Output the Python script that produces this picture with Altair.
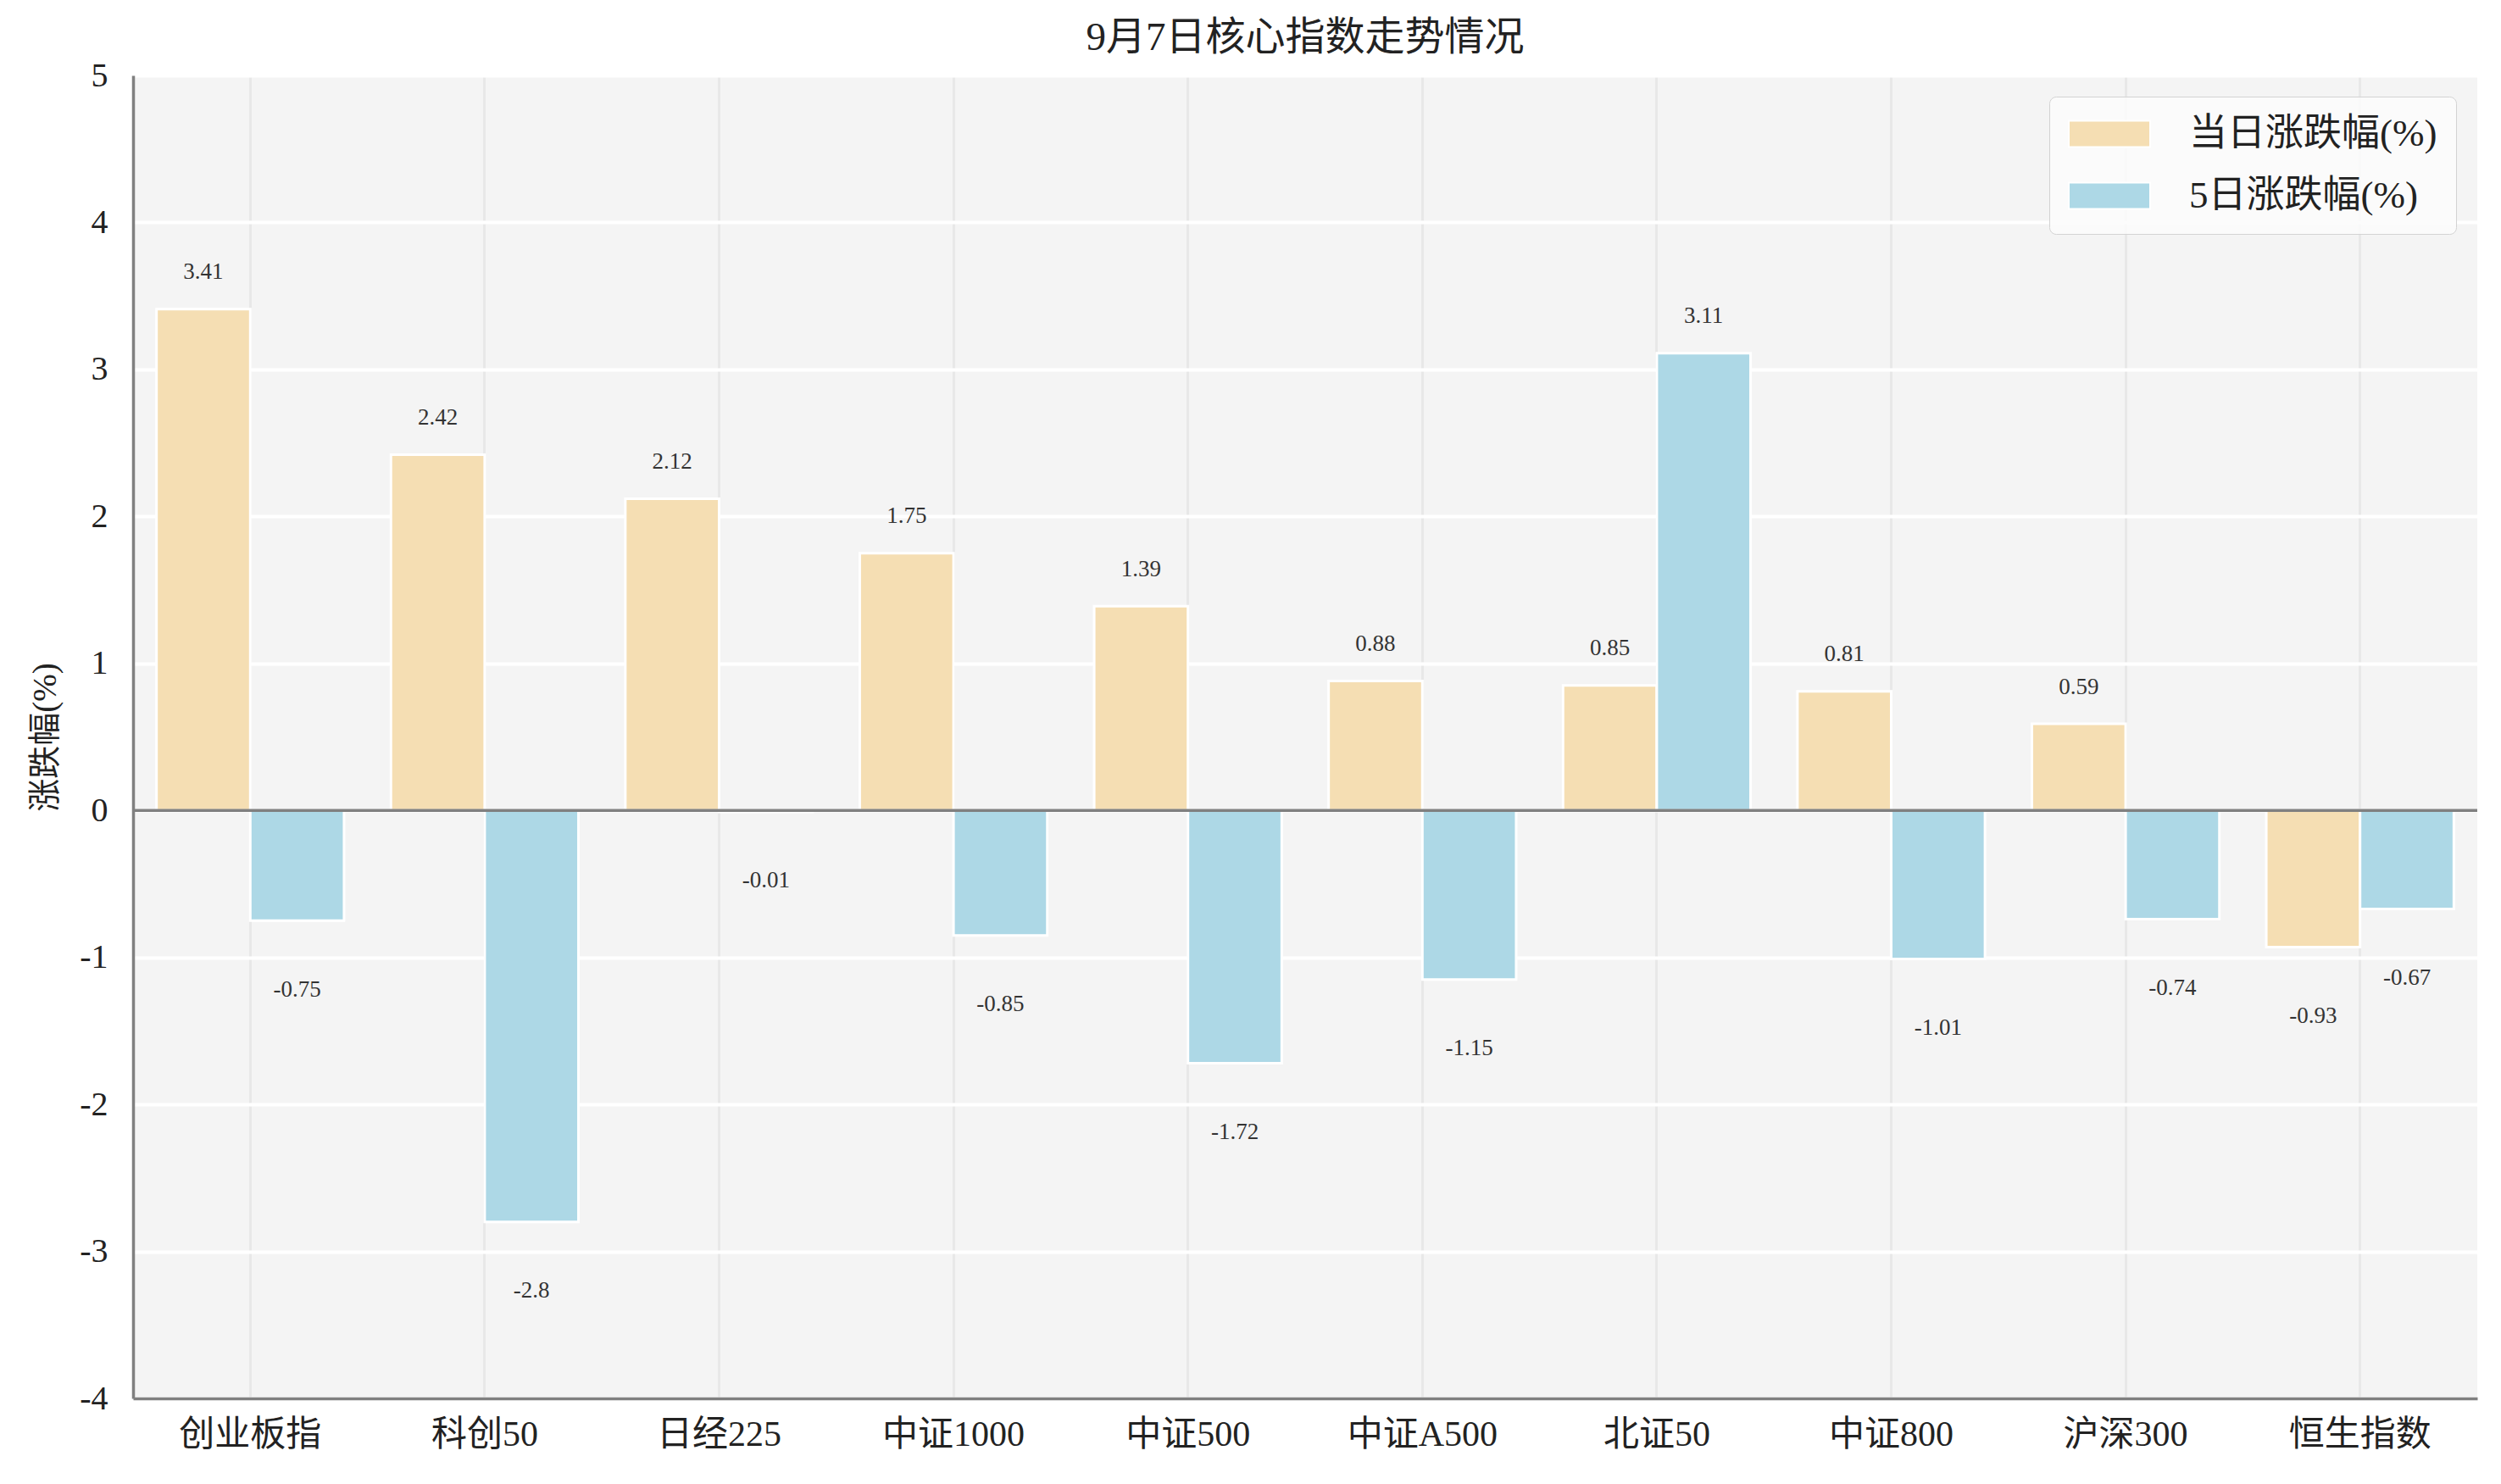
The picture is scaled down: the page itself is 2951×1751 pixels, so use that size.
import altair as alt
import pandas as pd

categories = ["创业板指", "科创50", "日经225", "中证1000", "中证500",
              "中证A500", "北证50", "中证800", "沪深300", "恒生指数"]
series_names = ["当日涨跌幅(%)", "5日涨跌幅(%)"]
day_change = [3.41, 2.42, 2.12, 1.75, 1.39, 0.88, 0.85, 0.81, 0.59, -0.93]
five_day_change = [-0.75, -2.8, -0.01, -0.85, -1.72, -1.15, 3.11, -1.01, -0.74, -0.67]
y_ticks = [-4, -3, -2, -1, 0, 1, 2, 3, 4, 5]
colors = ["#f5deb3", "#add8e6"]

rows = []
for i, c in enumerate(categories):
    rows.append({"cat": c, "series": series_names[0], "value": day_change[i]})
    rows.append({"cat": c, "series": series_names[1], "value": five_day_change[i]})
df = pd.DataFrame(rows)

FONT = "Liberation Serif, Noto Sans CJK SC, serif"

x_enc = alt.X("cat:N", sort=categories, title=None,
              scale=alt.Scale(paddingInner=0, paddingOuter=0),
              axis=alt.Axis(labelAngle=0, labelPadding=22, tickSize=0,
                            labelFontSize=42,
                            grid=True, gridColor="#e8e8e8", gridWidth=3,
                            bandPosition=0.5))
xoff_enc = alt.XOffset("series:N", sort=series_names,
                       scale=alt.Scale(paddingInner=0, paddingOuter=0.25))
y_scale = alt.Scale(domain=[-4, 5], nice=False, zero=False)

base = alt.Chart(df)

bars = base.mark_bar(stroke="white", strokeWidth=3).encode(
    x=x_enc,
    xOffset=xoff_enc,
    y=alt.Y("value:Q", title="涨跌幅(%)", scale=y_scale,
            axis=alt.Axis(values=y_ticks, labelExpr="toString(datum.value)",
                          labelPadding=30, tickSize=0, grid=True,
                          gridColor="#ffffff", gridWidth=4, titlePadding=20)),
    color=alt.Color("series:N", sort=series_names,
                    scale=alt.Scale(domain=series_names, range=colors),
                    legend=alt.Legend(title=None, orient="top-right", offset=25,
                                      labelFont=FONT, labelFontSize=45,
                                      labelColor="#222222", labelOffset=45,
                                      labelLimit=500,
                                      symbolType="M-1,-0.323H1V0.323H-1Z",
                                      symbolSize=9216, symbolStrokeColor="white",
                                      symbolStrokeWidth=2, symbolOpacity=1,
                                      clipHeight=44,
                                      rowPadding=28, padding=22,
                                      fillColor="rgba(252,252,252,0.85)",
                                      strokeColor="#d3d3d3", cornerRadius=8)),
)

labels = base.transform_calculate(
    ly="datum.value >= 0 ? datum.value + 0.25 : datum.value - 0.47",
    txt="toString(datum.value)",
).mark_text(font=FONT, fontSize=27, color="#333333", baseline="middle").encode(
    x=alt.X("cat:N", sort=categories, title=None),
    xOffset=xoff_enc,
    y=alt.Y("ly:Q", title="涨跌幅(%)", scale=y_scale),
    text="txt:N",
)

zero = alt.Chart(pd.DataFrame({"z": [0]})).mark_rule(
    color="#808080", strokeWidth=3.5).encode(
    y=alt.Y("z:Q", title="涨跌幅(%)", scale=y_scale))

chart = alt.layer(bars, labels, zero).properties(
    width=2766, height=1561,
    background="white",
    title=alt.TitleParams("9月7日核心指数走势情况", font=FONT, fontSize=47,
                          fontWeight="normal", color="#222222", offset=0),
    padding={"left": 149, "top": 81, "right": 20, "bottom": 70},
    autosize=alt.AutoSizeParams(type="none"),
).configure_axis(
    labelFont=FONT, labelFontSize=40, labelColor="#222222",
    titleFont=FONT, titleFontSize=39, titleFontWeight="normal",
    titleColor="#222222", domainColor="#808080", domainWidth=3.5,
).configure_view(
    fill="#f4f4f4", stroke=None
)

chart.save("out.html", embed_options={"renderer": "svg", "actions": False})
